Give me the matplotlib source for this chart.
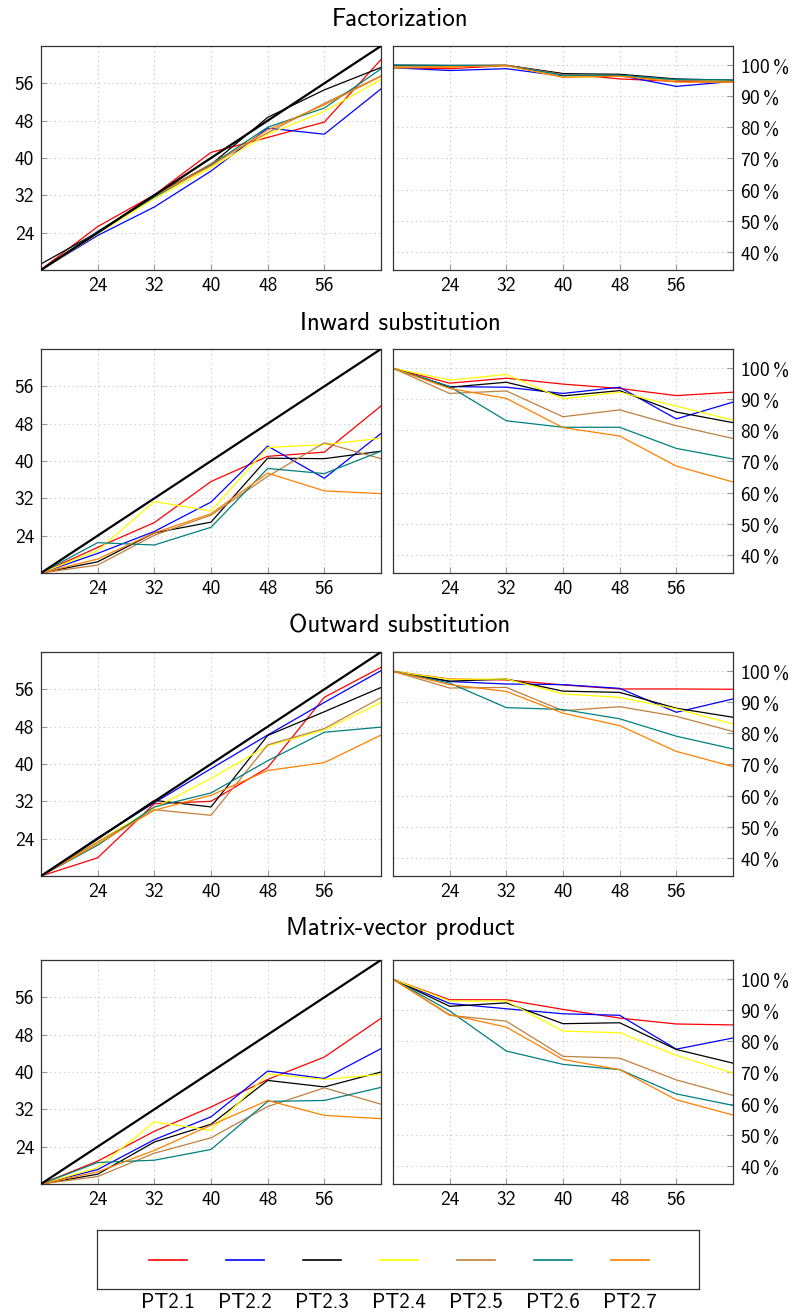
import matplotlib
matplotlib.use("Agg")
import matplotlib.pyplot as plt
from matplotlib.ticker import FixedLocator, FuncFormatter

plt.rcParams['font.family'] = ['cmss10', 'DejaVu Sans']
plt.rcParams['mathtext.fontset'] = 'custom'
plt.rcParams['mathtext.rm'] = 'cmss10'
plt.rcParams['mathtext.sf'] = 'cmss10'
plt.rcParams['axes.unicode_minus'] = False

cores = [16, 24, 32, 40, 48, 56, 64]
series_names = ["PT2.1", "PT2.2", "PT2.3", "PT2.4", "PT2.5", "PT2.6", "PT2.7"]
series_colors = ["#ff0000", "#0000ff", "#000000", "#ffff00", "#bf8040", "#008080", "#ff8000"]
panel_titles = ["Factorization", "Inward substitution", "Outward substitution", "Matrix-vector product"]

x_ticks = [24, 32, 40, 48, 56]
speedup_ticks = [24, 32, 40, 48, 56]
eff_ticks = [40, 50, 60, 70, 80, 90, 100]

# Speedup (left column), one list per series
fact_speedup = [
    [16.1, 25.3, 32.1, 41.2, 44.4, 47.7, 61.1],
    [16.0, 23.4, 29.5, 37.2, 46.4, 45.1, 54.8],
    [17.3, 24.1, 32.1, 38.6, 48.7, 54.6, 59.4],
    [15.9, 23.8, 31.3, 37.9, 45.1, 50.0, 56.8],
    [16.0, 24.0, 31.8, 38.8, 45.4, 51.7, 57.6],
    [16.0, 24.3, 31.6, 38.5, 46.6, 50.7, 59.1],
    [16.0, 23.9, 31.9, 38.3, 46.0, 51.4, 57.5],
]
inward_speedup = [
    [16.0, 21.5, 26.8, 35.6, 41.0, 41.9, 51.8],
    [16.0, 20.2, 24.9, 31.2, 43.2, 36.3, 45.9],
    [16.0, 18.4, 24.6, 26.9, 40.6, 40.5, 42.1],
    [16.0, 20.8, 31.3, 29.3, 42.9, 43.5, 44.9],
    [16.0, 17.7, 24.1, 28.4, 36.7, 43.9, 40.5],
    [16.0, 22.5, 22.0, 25.8, 38.4, 37.3, 42.1],
    [16.0, 19.0, 24.6, 28.7, 37.4, 33.6, 33.0],
]
outward_speedup = [
    [16.0, 19.9, 31.5, 32.0, 39.2, 54.3, 60.7],
    [16.0, 24.2, 31.7, 39.0, 46.2, 53.2, 60.0],
    [16.0, 24.0, 32.2, 30.8, 46.1, 51.2, 56.4],
    [16.0, 23.4, 30.6, 36.9, 43.9, 47.3, 53.2],
    [16.0, 23.3, 30.2, 29.0, 44.1, 47.6, 54.2],
    [16.0, 22.6, 30.8, 33.8, 40.7, 46.8, 47.9],
    [16.0, 22.9, 30.1, 33.3, 38.6, 40.3, 46.2],
]
matvec_speedup = [
    [16.0, 20.9, 27.3, 32.5, 38.4, 43.2, 51.5],
    [16.0, 19.1, 25.5, 30.4, 40.2, 38.6, 45.0],
    [16.0, 18.1, 25.0, 28.8, 38.2, 36.8, 40.0],
    [16.0, 19.5, 29.3, 27.5, 39.6, 38.4, 39.5],
    [16.0, 17.6, 22.6, 25.9, 32.6, 36.6, 33.1],
    [16.0, 20.6, 21.1, 23.4, 33.7, 33.9, 36.7],
    [16.0, 18.6, 23.2, 28.6, 33.9, 30.7, 30.0],
]

# Efficiency in % (right column)
fact_eff = [
    [99.2, 98.9, 99.9, 97.3, 95.6, 94.8, 94.5],
    [99.2, 98.3, 98.9, 96.5, 96.7, 93.2, 94.8],
    [100.0, 99.9, 100.0, 97.3, 97.1, 95.6, 95.2],
    [99.4, 99.5, 99.9, 96.2, 96.5, 95.2, 94.8],
    [99.7, 99.7, 100.0, 97.0, 96.5, 95.2, 94.7],
    [100.1, 100.0, 99.9, 96.8, 96.8, 95.4, 95.3],
    [99.1, 99.4, 99.9, 96.1, 96.5, 94.6, 94.5],
]
inward_eff = [
    [100.0, 95.2, 96.8, 94.9, 93.5, 91.2, 92.3],
    [100.0, 94.1, 93.9, 91.9, 93.9, 83.7, 89.1],
    [100.0, 93.9, 95.5, 91.1, 92.8, 85.9, 82.5],
    [100.0, 96.2, 98.0, 90.2, 92.3, 87.8, 83.3],
    [100.0, 91.9, 92.7, 84.4, 86.6, 81.5, 77.4],
    [100.0, 94.1, 83.1, 81.0, 81.0, 74.2, 70.8],
    [100.0, 93.5, 90.3, 80.9, 78.2, 68.5, 63.4],
]
outward_eff = [
    [100.0, 97.5, 97.2, 95.6, 94.3, 94.3, 94.2],
    [100.0, 96.7, 95.9, 95.7, 94.5, 86.8, 91.1],
    [100.0, 96.8, 97.5, 93.6, 93.2, 88.1, 85.2],
    [100.0, 97.4, 97.5, 92.7, 91.6, 87.9, 83.0],
    [100.0, 94.6, 94.8, 87.3, 88.6, 85.5, 80.6],
    [100.0, 96.2, 88.3, 87.7, 84.7, 79.1, 75.0],
    [100.0, 95.7, 93.5, 86.5, 82.5, 74.2, 69.3],
]
matvec_eff = [
    [100.0, 93.4, 93.4, 90.3, 87.5, 85.6, 85.3],
    [100.0, 92.2, 90.5, 88.9, 88.4, 77.5, 81.1],
    [100.0, 91.3, 92.4, 85.7, 86.0, 77.4, 73.0],
    [100.0, 93.0, 93.0, 83.3, 82.8, 75.5, 69.8],
    [100.0, 88.4, 86.5, 75.2, 74.6, 67.6, 62.6],
    [100.0, 89.8, 76.9, 72.6, 70.9, 63.1, 59.4],
    [100.0, 88.6, 84.6, 74.2, 70.9, 61.2, 56.3],
]

speedups = [fact_speedup, inward_speedup, outward_speedup, matvec_speedup]
effs = [fact_eff, inward_eff, outward_eff, matvec_eff]

W, H = 797, 1316
fig = plt.figure(figsize=(W / 100, H / 100), dpi=100)

def fr(x0, y0, x1, y1):
    return [x0 / W, 1 - y1 / H, (x1 - x0) / W, (y1 - y0) / H]

row_tops = [46, 349, 652, 960]
title_ys = [20, 323, 626, 929]
row_h = 224
tick_fs = 14
grid_kw = dict(color="#c4c4c4", linestyle=(0, (1, 3)), linewidth=0.8)

def style_axes(ax):
    for s in ax.spines.values():
        s.set_color("#333333")
        s.set_linewidth(0.9)
    ax.grid(True, **grid_kw)
    ax.set_axisbelow(True)
    ax.tick_params(direction="in", length=4, width=0.8, color="#999999",
                   labelsize=tick_fs, pad=5)

for r in range(4):
    top = row_tops[r]
    axl = fig.add_axes(fr(41, top, 381, top + row_h))
    axr = fig.add_axes(fr(393, top, 733, top + row_h))

    axl.plot([cores[0], cores[-1]], [cores[0], cores[-1]], color="black", lw=1.6, zorder=3)
    for vals, col in zip(speedups[r], series_colors):
        axl.plot(cores, vals, color=col, lw=0.9, zorder=2)
    axl.set_xlim(16, 64)
    axl.set_ylim(16, 64)
    axl.xaxis.set_major_locator(FixedLocator(x_ticks))
    axl.yaxis.set_major_locator(FixedLocator(speedup_ticks))
    style_axes(axl)

    for vals, col in zip(effs[r], series_colors):
        axr.plot(cores, vals, color=col, lw=0.9, zorder=2)
    axr.set_xlim(16, 64)
    axr.set_ylim(34.1, 106.2)
    axr.xaxis.set_major_locator(FixedLocator(x_ticks))
    axr.yaxis.set_major_locator(FixedLocator(eff_ticks))
    axr.yaxis.set_major_formatter(FuncFormatter(lambda v, p: r"$%d\,\%%$" % v))
    axr.yaxis.tick_right()
    style_axes(axr)

    fig.text(400 / W, 1 - title_ys[r] / H, panel_titles[r], ha="center", va="center",
             fontsize=18)

# Legend
axg = fig.add_axes(fr(97, 1230, 699, 1289))
axg.set_xlim(97, 699)
axg.set_ylim(0, 1)
axg.set_xticks([])
axg.set_yticks([])
for s in axg.spines.values():
    s.set_color("#333333")
    s.set_linewidth(0.9)
for i, (name, col) in enumerate(zip(series_names, series_colors)):
    c = 167.5 + 77 * i
    axg.plot([c - 19, c + 19], [0.5, 0.5], color=col, lw=1.2)
    fig.text(c / W, 1 - 1303 / H, name, ha="center", va="center", fontsize=15)

fig.savefig("out.png", dpi=100)
